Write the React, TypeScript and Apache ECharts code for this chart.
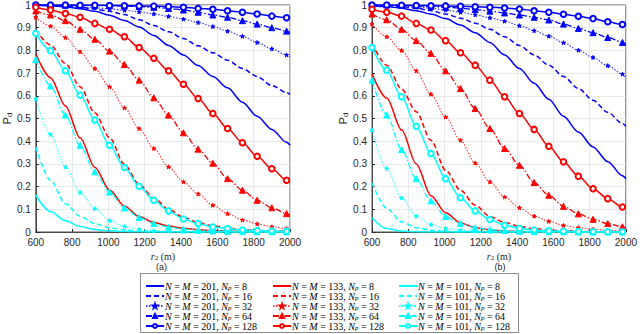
import React, { useEffect, useRef } from 'react';
import * as echarts from 'echarts';

// x positions of the plotted samples (m)
const xs = [600, 681, 763, 844, 925, 1006, 1088, 1169, 1250, 1331, 1413, 1494, 1575, 1656, 1738, 1819, 1900, 1981, 2000];
const npList = [8, 16, 32, 64, 128];

// ---- panel (a) ----
const a_blue8 = [0.999, 0.997, 0.992, 0.984, 0.972, 0.955, 0.932, 0.903, 0.866, 0.822, 0.78, 0.733, 0.685, 0.635, 0.572, 0.51, 0.452, 0.395, 0.382];
const a_blue16 = [1.0, 0.998, 0.995, 0.99, 0.982, 0.972, 0.958, 0.935, 0.91, 0.882, 0.852, 0.82, 0.79, 0.757, 0.72, 0.685, 0.645, 0.614, 0.606];
const a_blue32 = [1.0, 0.998, 0.995, 0.992, 0.988, 0.983, 0.977, 0.97, 0.961, 0.95, 0.938, 0.923, 0.905, 0.885, 0.862, 0.835, 0.807, 0.78, 0.772];
const a_blue64 = [1.0, 1.0, 0.999, 0.999, 0.998, 0.997, 0.996, 0.993, 0.99, 0.985, 0.978, 0.968, 0.956, 0.946, 0.931, 0.916, 0.9, 0.885, 0.879];
const a_blue128 = [1.0, 1.0, 1.0, 0.999, 0.999, 0.998, 0.997, 0.996, 0.995, 0.993, 0.99, 0.985, 0.981, 0.975, 0.968, 0.96, 0.951, 0.944, 0.94];
const a_red8 = [0.784, 0.68, 0.555, 0.415, 0.285, 0.185, 0.115, 0.068, 0.042, 0.026, 0.016, 0.01, 0.006, 0.004, 0.002, 0.001, 0.001, 0.001, 0.001];
const a_red16 = [0.89, 0.824, 0.742, 0.64, 0.525, 0.416, 0.298, 0.21, 0.15, 0.1, 0.065, 0.042, 0.027, 0.017, 0.011, 0.007, 0.005, 0.003, 0.003];
const a_red32 = [0.946, 0.907, 0.857, 0.794, 0.72, 0.64, 0.547, 0.456, 0.368, 0.287, 0.221, 0.168, 0.118, 0.081, 0.053, 0.036, 0.023, 0.015, 0.013];
const a_red64 = [0.974, 0.956, 0.931, 0.893, 0.849, 0.797, 0.738, 0.669, 0.591, 0.515, 0.437, 0.365, 0.303, 0.235, 0.184, 0.14, 0.107, 0.081, 0.075];
const a_red128 = [0.99, 0.978, 0.963, 0.946, 0.919, 0.893, 0.86, 0.813, 0.765, 0.71, 0.651, 0.588, 0.522, 0.456, 0.393, 0.334, 0.279, 0.228, 0.216];
const a_cyan8 = [0.162, 0.09, 0.05, 0.024, 0.011, 0.005, 0.002, 0.001, 0, 0, 0, 0, 0, 0, 0, 0, 0, 0, 0];
const a_cyan16 = [0.375, 0.228, 0.125, 0.069, 0.037, 0.018, 0.009, 0.004, 0.002, 0.001, 0.001, 0, 0, 0, 0, 0, 0, 0, 0];
const a_cyan32 = [0.588, 0.429, 0.287, 0.174, 0.103, 0.051, 0.024, 0.012, 0.006, 0.003, 0.002, 0.001, 0.001, 0, 0, 0, 0, 0, 0];
const a_cyan64 = [0.76, 0.643, 0.515, 0.382, 0.265, 0.176, 0.106, 0.064, 0.037, 0.022, 0.013, 0.008, 0.005, 0.003, 0.002, 0.001, 0.001, 0.001, 0.001];
const a_cyan128 = [0.875, 0.799, 0.71, 0.603, 0.493, 0.382, 0.284, 0.201, 0.14, 0.093, 0.057, 0.037, 0.022, 0.015, 0.009, 0.006, 0.004, 0.003, 0.003];

// ---- panel (b) ----
const b_blue8 = [0.997, 0.993, 0.986, 0.975, 0.96, 0.94, 0.912, 0.878, 0.835, 0.78, 0.72, 0.655, 0.585, 0.51, 0.44, 0.375, 0.31, 0.248, 0.235];
const b_blue16 = [0.999, 0.997, 0.993, 0.986, 0.975, 0.96, 0.942, 0.92, 0.893, 0.86, 0.822, 0.78, 0.735, 0.685, 0.632, 0.58, 0.527, 0.478, 0.466];
const b_blue32 = [1.0, 0.999, 0.996, 0.992, 0.986, 0.978, 0.968, 0.957, 0.944, 0.929, 0.909, 0.887, 0.863, 0.834, 0.801, 0.769, 0.733, 0.696, 0.679];
const b_blue64 = [1.0, 1.0, 0.999, 0.997, 0.994, 0.99, 0.986, 0.98, 0.973, 0.965, 0.956, 0.946, 0.934, 0.916, 0.897, 0.878, 0.857, 0.835, 0.826];
const b_blue128 = [1.0, 1.0, 0.999, 0.998, 0.997, 0.996, 0.994, 0.992, 0.99, 0.987, 0.982, 0.975, 0.968, 0.959, 0.95, 0.94, 0.926, 0.914, 0.909];
const b_red8 = [0.696, 0.59, 0.45, 0.3, 0.16, 0.085, 0.04, 0.019, 0.009, 0.004, 0.002, 0.001, 0, 0, 0, 0, 0, 0, 0];
const b_red16 = [0.83, 0.735, 0.63, 0.53, 0.404, 0.272, 0.184, 0.118, 0.069, 0.042, 0.025, 0.015, 0.009, 0.005, 0.003, 0.002, 0.001, 0.001, 0.001];
const b_red32 = [0.916, 0.86, 0.8, 0.71, 0.607, 0.507, 0.404, 0.304, 0.221, 0.154, 0.107, 0.07, 0.047, 0.029, 0.019, 0.012, 0.007, 0.005, 0.004];
const b_red64 = [0.96, 0.935, 0.893, 0.843, 0.787, 0.71, 0.632, 0.544, 0.456, 0.368, 0.294, 0.218, 0.162, 0.113, 0.08, 0.056, 0.037, 0.023, 0.02];
const b_red128 = [0.981, 0.968, 0.951, 0.919, 0.89, 0.843, 0.79, 0.735, 0.669, 0.596, 0.522, 0.452, 0.378, 0.309, 0.246, 0.191, 0.147, 0.11, 0.103];
const b_cyan8 = [0.063, 0.015, 0.004, 0.001, 0, 0, 0, 0, 0, 0, 0, 0, 0, 0, 0, 0, 0, 0, 0];
const b_cyan16 = [0.216, 0.105, 0.045, 0.019, 0.008, 0.003, 0.001, 0, 0, 0, 0, 0, 0, 0, 0, 0, 0, 0, 0];
const b_cyan32 = [0.449, 0.279, 0.151, 0.069, 0.033, 0.016, 0.008, 0.004, 0.002, 0.001, 0, 0, 0, 0, 0, 0, 0, 0, 0];
const b_cyan64 = [0.669, 0.515, 0.363, 0.235, 0.137, 0.069, 0.037, 0.019, 0.01, 0.006, 0.003, 0.002, 0.001, 0.001, 0, 0, 0, 0, 0];
const b_cyan128 = [0.813, 0.713, 0.596, 0.466, 0.346, 0.235, 0.151, 0.093, 0.055, 0.03, 0.016, 0.009, 0.005, 0.003, 0.002, 0.001, 0.001, 0.001, 0.001];

const groups = [
  { N: 201, color: '#0000ff', a: [a_blue8, a_blue16, a_blue32, a_blue64, a_blue128], b: [b_blue8, b_blue16, b_blue32, b_blue64, b_blue128] },
  { N: 133, color: '#ff0000', a: [a_red8, a_red16, a_red32, a_red64, a_red128], b: [b_red8, b_red16, b_red32, b_red64, b_red128] },
  { N: 101, color: '#00ffff', a: [a_cyan8, a_cyan16, a_cyan32, a_cyan64, a_cyan128], b: [b_cyan8, b_cyan16, b_cyan32, b_cyan64, b_cyan128] },
];

const STAR = 'path://M0,-1L0.22,-0.3L0.95,-0.31L0.36,0.12L0.59,0.81L0,0.38L-0.59,0.81L-0.36,0.12L-0.95,-0.31L-0.22,-0.3Z';

const styles = [
  { type: 'solid' as any, width: 1.5, symbol: 'none', size: 0, opacity: 1 },
  { type: [5, 3] as any, width: 1.5, symbol: 'none', size: 0, opacity: 1 },
  { type: [1.5, 1.5] as any, width: 1.2, symbol: STAR, size: 4, opacity: 0.75 },
  { type: [6, 2, 1.5, 2] as any, width: 1.3, symbol: 'triangle', size: 6, opacity: 1 },
  { type: 'solid' as any, width: 1.5, symbol: 'emptyCircle', size: 5.5, opacity: 1 },
];

const nameOf = (N: number, np: number) => `N = M = ${N}, Np = ${np}`;
const richName = (n: string) => {
  const m = n.match(/N = M = (\d+), Np = (\d+)/);
  if (!m) return n;
  return `{i|N} = {i|M} = ${m[1]}, {i|N}{s|p} = ${m[2]}`;
};

const AXIS_COLOR = '#262626';
const SANS = '"Liberation Sans", Arial, Helvetica, sans-serif';
const SERIF = '"Liberation Serif", "DejaVu Serif", serif';

function buildSeries() {
  const out: any[] = [];
  groups.forEach((g) => {
    npList.forEach((np, k) => {
      const st = styles[k];
      (['a', 'b'] as const).forEach((panel, pi) => {
        const vals = (g as any)[panel][k] as number[];
        out.push({
          type: 'line',
          name: nameOf(g.N, np),
          xAxisIndex: pi,
          yAxisIndex: pi,
          smooth: 0.3,
          smoothMonotone: 'x',
          symbol: st.symbol,
          symbolSize: st.size,
          showSymbol: st.symbol !== 'none',
          color: g.color,
          itemStyle: { color: g.color, borderColor: g.color, borderWidth: k === 4 ? 1.3 : 1 },
          lineStyle: { color: g.color, width: st.width, type: st.type, opacity: st.opacity },
          clip: true,
          data: xs.map((x, i) => (i === xs.length - 1 ? { value: [x, vals[i]], symbol: 'none' } : { value: [x, vals[i]] })),
        });
      });
    });
  });
  return out;
}

function makeX(gridIndex: number) {
  return {
    type: 'value',
    gridIndex,
    min: 600,
    max: 2000,
    interval: 200,
    axisLine: { show: true, onZero: false, lineStyle: { color: AXIS_COLOR, width: 0.8 } },
    axisTick: { show: true, inside: true, length: 3, lineStyle: { color: AXIS_COLOR } },
    axisLabel: { color: AXIS_COLOR, fontSize: 10, fontFamily: SANS, margin: 5, formatter: (v: number) => String(v) },
    splitLine: { show: true, lineStyle: { color: '#e3e3e3', width: 0.8 } },
    name: '{r|r}{s|2} (m)',
    nameLocation: 'middle',
    nameGap: 18,
    nameTextStyle: {
      color: AXIS_COLOR,
      fontFamily: SERIF,
      fontSize: 10,
      lineHeight: 10,
      rich: {
        r: { fontFamily: SERIF, fontStyle: 'italic', fontSize: 10, lineHeight: 10, color: AXIS_COLOR },
        s: { fontFamily: SERIF, fontSize: 7, lineHeight: 10, color: AXIS_COLOR, verticalAlign: 'bottom', padding: [2, 0, 0, 0] },
      },
    },
  };
}

function makeY(gridIndex: number) {
  return {
    type: 'value',
    gridIndex,
    min: 0,
    max: 1,
    interval: 0.1,
    axisLine: { show: true, onZero: false, lineStyle: { color: AXIS_COLOR, width: 0.8 } },
    axisTick: { show: true, inside: true, length: 3, lineStyle: { color: AXIS_COLOR } },
    axisLabel: { color: AXIS_COLOR, fontSize: 10, fontFamily: SANS, margin: 5 },
    splitLine: { show: true, lineStyle: { color: '#e3e3e3', width: 0.8 } },
    name: '{p|P}{d|d}',
    nameLocation: 'middle',
    nameRotate: 90,
    nameGap: 19,
    nameTextStyle: {
      color: AXIS_COLOR,
      rich: {
        p: { fontFamily: SANS, fontSize: 11, color: AXIS_COLOR },
        d: { fontFamily: SANS, fontSize: 8, color: AXIS_COLOR, verticalAlign: 'bottom', padding: [5, 0, 0, 0] },
      },
    },
  };
}

function makeLegend(N: number, left: number) {
  return {
    show: true,
    orient: 'vertical',
    left,
    top: 281,
    itemWidth: 18,
    itemHeight: 5,
    itemGap: 0,
    padding: 0,
    data: npList.map((np, k) => (k < 2 ? { name: nameOf(N, np), itemStyle: { opacity: 0 } } : { name: nameOf(N, np) })),
    formatter: richName,
    textStyle: {
      color: '#000',
      fontFamily: SERIF,
      fontSize: 10,
      lineHeight: 10,
      padding: [0, 0, 0, -4],
      rich: {
        i: { fontFamily: SERIF, fontStyle: 'italic', fontSize: 10, lineHeight: 10, color: '#000' },
        s: { fontFamily: SERIF, fontStyle: 'italic', fontSize: 7, lineHeight: 10, color: '#000', verticalAlign: 'bottom', padding: [3, 0, 0, 0] },
      },
    },
  };
}

export default function App() {
  const ref = useRef<HTMLDivElement>(null);
  useEffect(() => {
    if (!ref.current) return;
    const chart = echarts.init(ref.current, null, { renderer: 'svg' });
    const option: any = {
      animation: false,
      backgroundColor: '#ffffff',
      grid: [
        { left: 33, top: 5, width: 257, height: 227, show: true, borderColor: AXIS_COLOR, borderWidth: 0.8, backgroundColor: '#fff' },
        { left: 372, top: 5, width: 256, height: 227, show: true, borderColor: AXIS_COLOR, borderWidth: 0.8, backgroundColor: '#fff' },
      ],
      xAxis: [makeX(0), makeX(1)],
      yAxis: [makeY(0), makeY(1)],
      legend: [makeLegend(201, 145), makeLegend(133, 272), makeLegend(101, 398)],
      series: buildSeries(),
      graphic: [
        { type: 'rect', shape: { x: 140.5, y: 273.5, width: 378, height: 59 }, style: { fill: 'none', stroke: '#8c8c8c', lineWidth: 1 }, z: 0, silent: true },
        { type: 'text', x: 161.5, y: 267, style: { text: '(a)', fontFamily: SANS, fontSize: 9, fill: AXIS_COLOR, textAlign: 'center', textVerticalAlign: 'middle' } },
        { type: 'text', x: 500, y: 267, style: { text: '(b)', fontFamily: SANS, fontSize: 9, fill: AXIS_COLOR, textAlign: 'center', textVerticalAlign: 'middle' } },
      ],
    };
    chart.setOption(option);
    return () => chart.dispose();
  }, []);
  return <div ref={ref} style={{ position: 'fixed', left: 0, top: 0, width: 640, height: 334 }} />;
}
